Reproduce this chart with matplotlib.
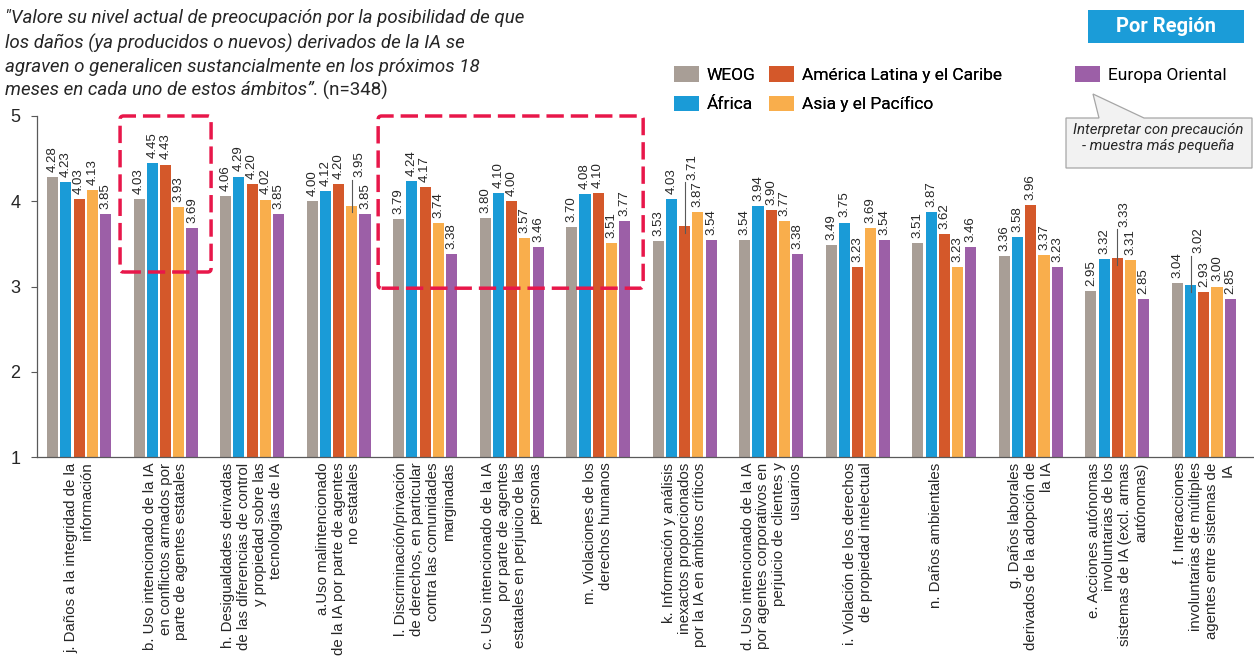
# -*- coding: utf-8 -*-
import numpy as np
import matplotlib
matplotlib.use('Agg')
import matplotlib.pyplot as plt
from matplotlib.patches import FancyBboxPatch, Polygon, Rectangle

# data
regions = ['WEOG', 'África', 'América Latina y el Caribe', 'Asia y el Pacífico', 'Europa Oriental']
colors = ['#A89E96', '#1A9BD7', '#D4582A', '#F9AE4C', '#9C5FA7']

categories = [
    'j. Daños a la integridad de la\ninformación',
    'b. Uso intencionado de la IA\nen conflictos armados por\nparte de agentes estatales',
    'h. Desigualdades derivadas\nde las diferencias de control\ny propiedad sobre las\ntecnologías de IA',
    'a.Uso malintencionado\nde la IA por parte de agentes\nno estatales',
    'l. Discriminación/privación\nde derechos, en particular\ncontra las comunidades\nmarginadas',
    'c. Uso intencionado de la IA\npor parte de agentes\nestatales en perjuicio de las\npersonas',
    'm. Violaciones de los\nderechos humanos',
    'k. Información y análisis\ninexactos proporcionados\npor la IA en ámbitos críticos',
    'd. Uso intencionado de la IA\npor agentes corporativos en\nperjuicio de clientes y\nusuarios',
    'i. Violación de los derechos\nde propiedad intelectual',
    'n. Daños ambientales\n ',
    'g. Daños laborales\nderivados de la adopción de\nla IA',
    'e. Acciones autónomas\ninvoluntarias de los\nsistemas de IA (excl. armas\nautónomas)',
    'f. Interacciones\ninvoluntarias de múltiples\nagentes entre sistemas de\nIA',
]

weog = [4.28, 4.03, 4.06, 4.00, 3.79, 3.80, 3.70, 3.53, 3.54, 3.49, 3.51, 3.36, 2.95, 3.04]
africa = [4.23, 4.45, 4.29, 4.12, 4.24, 4.10, 4.08, 4.03, 3.94, 3.75, 3.87, 3.58, 3.32, 3.02]
latam = [4.03, 4.43, 4.20, 4.20, 4.17, 4.00, 4.10, 3.71, 3.90, 3.23, 3.62, 3.96, 3.33, 2.93]
asia = [4.13, 3.93, 4.02, 3.95, 3.74, 3.57, 3.51, 3.87, 3.77, 3.69, 3.23, 3.37, 3.31, 3.00]
europa = [3.85, 3.69, 3.85, 3.85, 3.38, 3.46, 3.77, 3.54, 3.38, 3.54, 3.46, 3.23, 2.85, 2.85]
series = [weog, africa, latam, asia, europa]

# labels lifted above the bar with a leader line: (category, series) -> lift
moved_labels = {(3, 3): 0.335, (7, 2): 0.54, (12, 2): 0.37, (13, 1): 0.37}

title_lines = ['"Valore su nivel actual de preocupación por la posibilidad de que',
               'los daños (ya producidos o nuevos) derivados de la IA se',
               'agraven o generalicen sustancialmente en los próximos 18',
               'meses en cada uno de estos ámbitos”.']
title_n = ' (n=348)'

W, H = 1254, 658
fig = plt.figure(figsize=(W / 100, H / 100), dpi=100)
ax = fig.add_axes([37 / W, 1 - 457 / H, 1 - 37 / W, (457 - 116) / H])

x = np.arange(len(categories))
pitch = 0.1526
bw = 0.128
bars = []
for k, vals in enumerate(series):
    b = ax.bar(x + (k - 2) * pitch, vals, width=bw, bottom=0, color=colors[k],
               label=regions[k], zorder=2)
    bars.append(b)

ax.set_ylim(1, 5)
ax.set_xlim(-0.486, 13.58)

lab_font = 'Liberation Sans'
vfs = 9.5
for k, vals in enumerate(series):
    for i, v in enumerate(vals):
        xc = x[i] + (k - 2) * pitch
        if (i, k) in moved_labels:
            lift = moved_labels[(i, k)]
            ax.plot([xc, xc], [v + lift - 0.03, v - 0.08], color='#595959', lw=0.8, zorder=4)
            ax.text(xc + 0.085, v + lift, '%.2f' % v, rotation=90, ha='center', va='bottom',
                    fontsize=vfs, family=lab_font, color='#262626', zorder=5)
        elif i == 11 and k == 1:
            ax.text(xc, v + 0.06, '%.2f' % v, rotation=90, ha='center', va='bottom',
                    fontsize=vfs, family=lab_font, color='#262626', zorder=5,
                    bbox=dict(facecolor='white', edgecolor='none', pad=1))
        else:
            ax.text(xc, v + 0.06, '%.2f' % v, rotation=90, ha='center', va='bottom',
                    fontsize=vfs, family=lab_font, color='#262626', zorder=5)

ax.set_yticks([1, 2, 3, 4, 5])
ax.tick_params(axis='y', length=4, width=0.8, color='#595959', labelsize=13, pad=8)
for t in ax.get_yticklabels():
    t.set_family(lab_font)
    t.set_color('#262626')

ax.set_xticks(x)
ax.set_xticklabels(categories, rotation=90, fontsize=10.8, family=lab_font, color='#262626')
ax.tick_params(axis='x', length=0, pad=4)
for t in ax.get_xticklabels():
    t.set_multialignment('right')
    t.set_linespacing(1.16)

for s in ['top', 'right']:
    ax.spines[s].set_visible(False)
for s in ['left', 'bottom']:
    ax.spines[s].set_color('#595959')
    ax.spines[s].set_linewidth(0.9)

# dashed highlight boxes
for (x0, x1, y0) in [(0.474, 1.526, 3.17), (3.457, 6.52, 2.98)]:
    box = FancyBboxPatch((x0, y0), x1 - x0, 5.0 - y0,
                         boxstyle='round,pad=0,rounding_size=0.04', mutation_aspect=1.02,
                         fill=False, edgecolor='#E8174A', lw=2.5, linestyle=(0, (5, 2)),
                         clip_on=False, zorder=6)
    ax.add_patch(box)

# title
rob = 'Roboto'
tys = [18, 43, 67, 90]
for ln, ty in zip(title_lines, tys):
    last = fig.text(5 / W, 1 - ty / H, ln, ha='left', va='center', fontsize=13.5,
                    style='italic', family=rob, color='#262626')
fig.canvas.draw()
bb = last.get_window_extent()
fig.text(bb.x1 / W, 1 - tys[-1] / H, title_n, ha='left', va='center', fontsize=13.5,
         family=rob, color='#262626')

# legends
leg_kw = dict(frameon=False, loc='upper left', borderpad=0, borderaxespad=0,
              prop={'family': rob, 'size': 12.5}, handlelength=1.44, handleheight=1.0,
              handletextpad=0.45, labelspacing=0.75, columnspacing=0.8,
              bbox_transform=fig.transFigure)
leg1 = fig.legend([bars[0], bars[1], bars[2], bars[3]], regions[:4], ncol=2,
                  bbox_to_anchor=(674 / W, 1 - 66 / H), **leg_kw)
leg2 = fig.legend([bars[4]], regions[4:], ncol=1,
                  bbox_to_anchor=(1075 / W, 1 - 66 / H), **leg_kw)
fig.add_artist(leg1)

# "Por Región" tag
fig.add_artist(Rectangle((1088 / W, 1 - 43 / H), (1244 - 1088) / W, 33 / H,
                         transform=fig.transFigure, facecolor='#1B9CD8', edgecolor='none'))
fig.text(1166 / W, 1 - 27 / H, 'Por Región', ha='center', va='center', fontsize=14.5,
         weight='bold', family=rob, color='white')

# callout
pts = [(1066, 118), (1099, 118), (1093, 94), (1144, 118), (1252, 118), (1252, 168), (1066, 168)]
fig.add_artist(Polygon([(px / W, 1 - py / H) for px, py in pts], closed=True,
                       transform=fig.transFigure, facecolor='#F2F2F2', edgecolor='#A6A6A6', lw=0.9))
fig.text(1158 / W, 1 - 138 / H, 'Interpretar con precaución\n- muestra más pequeña',
         ha='center', va='center', fontsize=10.8, style='italic', family=rob,
         color='#262626', linespacing=1.1)

fig.savefig('out.png', dpi=100)
